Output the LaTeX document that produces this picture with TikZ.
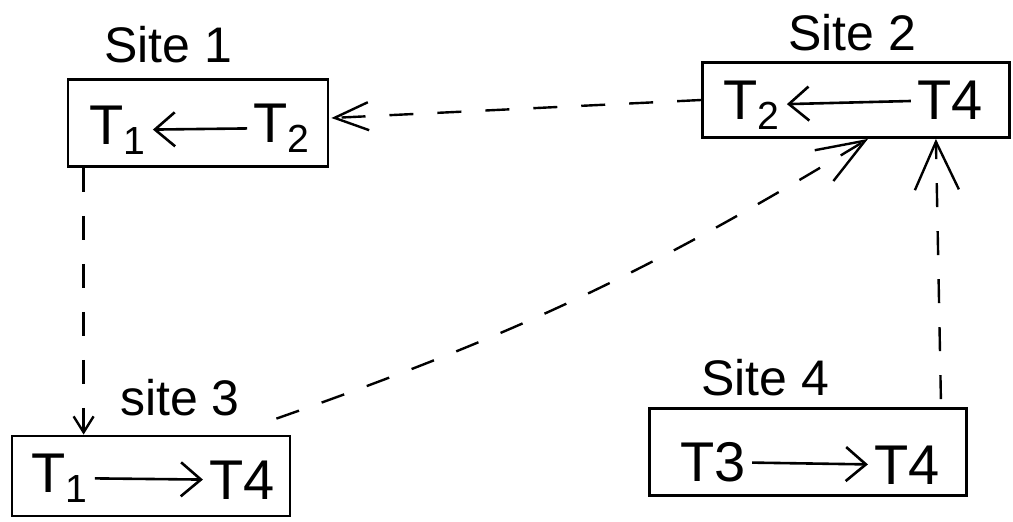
\documentclass[tikz,border=0pt]{standalone}
\usepackage{fontspec}
\setmainfont{Liberation Sans}
\usetikzlibrary{arrows.meta,calc}
\begin{document}
\begin{tikzpicture}[x=0.5pt,y=-0.5pt,
  sitebox/.style n args={2}{draw,line width=1.4pt,inner sep=0pt,
    minimum width=#1,minimum height=#2},
  lbl/.style={font=\fontsize{25}{28}\selectfont},
  tx/.style={font=\fontsize{28}{30}\selectfont,inner sep=3pt},
  wait/.style={line width=1.3pt,-{Straight Barb[length=10pt,width=17pt]}},
  dep/.style={line width=1.2pt,dash pattern=on 12pt off 12pt}]
\useasboundingbox (0,0) rectangle (1013,521);

% site boxes
\node[sitebox={130pt}{43.5pt}]   (s1) at (198,123) {};
\node[sitebox={153.5pt}{37.5pt}] (s2) at (856,100) {};
\node[sitebox={139pt}{40pt}]     (s3) at (151,476) {};
\node[sitebox={158.5pt}{43.5pt}] (s4) at (808,452) {};

% site labels
\node[lbl] (l1) at (168,45)  {Site 1};
\node[lbl] (l2) at (852,33)  {Site 2};
\node[lbl] (l3) at (180,398) {site 3};
\node[lbl] (l4) at (765,378) {Site 4};

% local wait-for graphs
\node[tx] (a1) at (118,130) {T\textsubscript{1}};
\node[tx] (a2) at (282,128) {T\textsubscript{2}};
\draw[wait] (a2) -- (a1);

\node[tx] (b2) at (752,105) {T\textsubscript{2}};
\node[tx] (b4) at (950,100) {T4};
\draw[wait] (b4) -- (b2);

\node[tx] (c1) at (60,478)  {T\textsubscript{1}};
\node[tx] (c4) at (242,480) {T4};
\draw[wait] (c1) -- (c4);

\node[tx] (d3) at (713,462) {T3};
\node[tx] (d4) at (907,465) {T4};
\draw[wait] (d3) -- (d4);

% inter-site dependencies
\draw[dep,-{Straight Barb[length=17pt,width=14pt]}]
  (s2.west) -- ($(s1.east)+(2,-5)$);
\draw[dep,-{Straight Barb[length=8pt,width=10pt]}]
  ($(s1.south west)+(17,0)$) -- ($(s3.north west)+(73,0)$);
\draw[dep,-{Straight Barb[length=24pt,width=18pt]}]
  ($(s3.north east)+(-15,-16)$) to[bend right=6] ($(s2.south)+(12,0)$);
\draw[dep,-{Straight Barb[length=24pt,width=22pt]}]
  ($(s4.north east)+(-27,-8)$) -- ($(s2.south east)+(-75,0)$);
\end{tikzpicture}
\end{document}
